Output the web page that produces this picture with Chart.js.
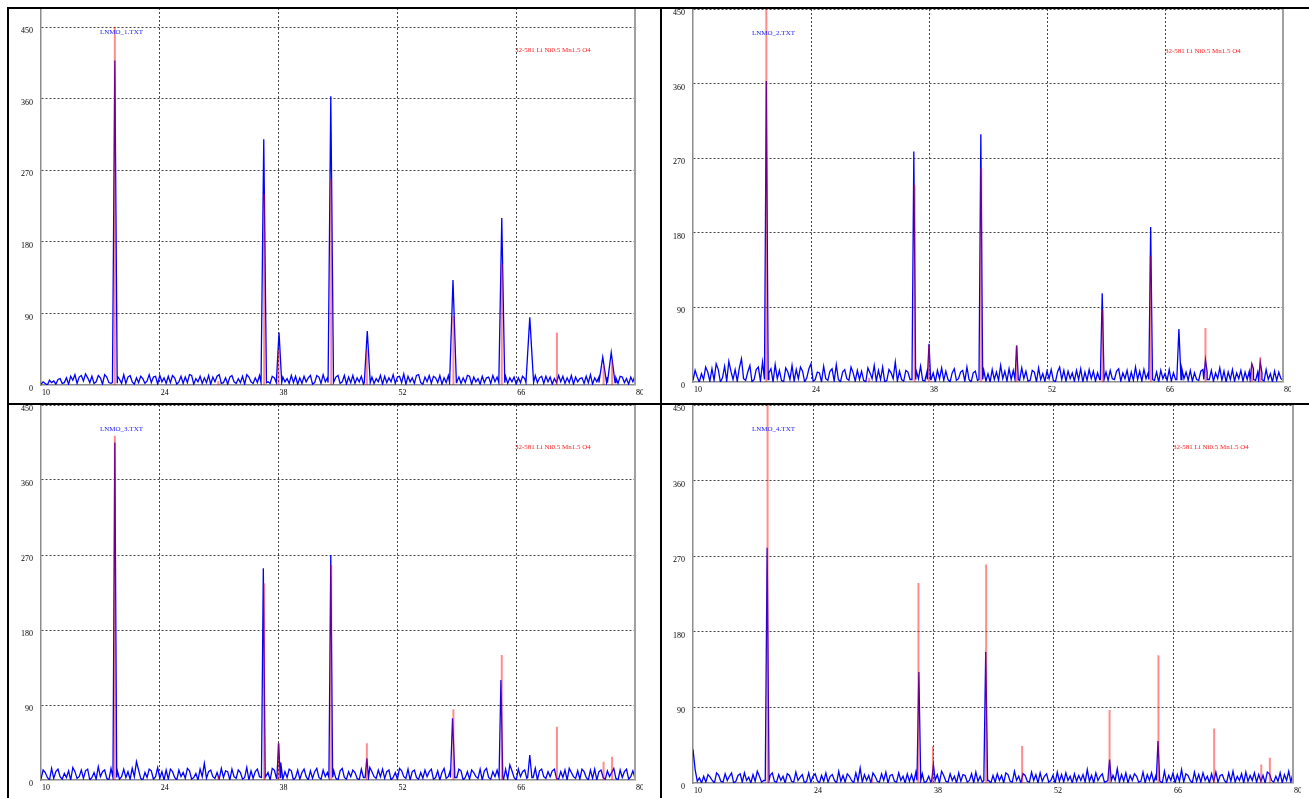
<!DOCTYPE html>
<html>
<head>
<meta charset="utf-8">
<script src="https://cdn.jsdelivr.net/npm/chart.js@4.4.1/dist/chart.umd.min.js"></script>
<style>
  body { margin: 0; background: #fff; width: 1309px; height: 798px; position: relative; overflow: hidden; }
  canvas { position: absolute; }
  .rule { position: absolute; background: #000; }
</style>
</head>
<body>
<canvas id="c1"></canvas>
<canvas id="c2"></canvas>
<canvas id="c3"></canvas>
<canvas id="c4"></canvas>
<div class="rule" style="left:7px;top:7px;width:1302px;height:2px"></div>
<div class="rule" style="left:7px;top:7px;width:2px;height:791px"></div>
<div class="rule" style="left:660px;top:7px;width:2px;height:791px"></div>
<div class="rule" style="left:7px;top:403px;width:1302px;height:2px"></div>
<script>
// axis ticks (2-theta, intensity)
var xTicks = [10, 24, 38, 52, 66, 80];
var yTicks = [0, 90, 180, 270, 360, 450];

// reference card 32-581 Li Ni0.5 Mn1.5 O4 (red sticks)
var refPos = [18.7, 30.9, 36.3, 38.0, 44.2, 48.4, 58.6, 64.3, 70.8, 76.3, 77.3];
var refHeight1 = [450, 5, 240, 44, 259, 44, 87, 152, 66, 24, 30];
var refHeight2 = [450, 5, 238, 44, 258, 44, 87, 152, 65, 22, 30];
var refHeight3 = [413, 5, 236, 44, 258, 44, 85, 150, 64, 22, 28];
var refHeight4 = [450, 5, 238, 44, 260, 44, 87, 152, 65, 22, 30];

// measured peaks per sample (blue)
var peakPos1 = [18.7, 36.25, 38.05, 44.15, 48.45, 58.55, 64.3, 67.6, 76.2, 77.2];
var peakHeight1 = [408, 309, 66, 363, 68, 132, 210, 85, 35, 41];
var peakWidth1 = [0.28, 0.32, 0.32, 0.32, 0.35, 0.4, 0.35, 0.45, 0.45, 0.45];

var peakPos2 = [18.7, 36.2, 38.0, 44.15, 48.4, 58.55, 64.3, 67.65, 70.8, 76.3, 77.3];
var peakHeight2 = [363, 278, 46, 299, 44, 107, 187, 64, 27, 22, 24];
var peakWidth2 = [0.22, 0.22, 0.2, 0.22, 0.2, 0.22, 0.22, 0.25, 0.2, 0.2, 0.2];

var peakPos3 = [18.7, 36.2, 38.0, 44.15, 48.4, 58.5, 64.2, 67.6];
var peakHeight3 = [405, 254, 44, 270, 26, 74, 120, 30];
var peakWidth3 = [0.22, 0.22, 0.2, 0.22, 0.2, 0.25, 0.22, 0.25];

var peakPos4 = [18.65, 36.35, 38.05, 44.15, 58.6, 64.25];
var peakHeight4 = [280, 132, 22, 156, 28, 50];
var peakWidth4 = [0.22, 0.22, 0.2, 0.22, 0.2, 0.2];

// background counts, 10..80 deg in 0.25 deg steps
var noise1 = [
  1,4,2,0,6,3,5,1,7,8,2,3,9,1,11,6,13,2,10,12,
  5,14,9,3,11,2,4,12,9,1,13,10,3,2,12,5,11,7,2,13,
  2,10,12,4,1,9,3,11,8,2,5,13,3,10,11,1,12,4,9,2,
  11,3,12,9,1,4,11,2,10,3,13,12,1,8,4,11,2,9,3,12,
  1,10,4,11,13,2,3,9,1,10,12,4,2,8,3,11,1,13,10,4,
  2,9,3,12,1,10,11,4,2,11,9,3,13,1,10,4,8,2,12,3,
  11,1,9,2,11,4,9,12,1,3,12,10,2,13,4,9,1,11,3,10,
  12,2,4,12,1,10,3,12,2,9,4,11,1,13,12,3,10,2,8,4,
  12,1,11,3,9,4,13,2,10,11,3,14,1,11,4,9,2,12,13,3,
  1,10,4,12,2,11,9,3,12,1,9,3,12,8,1,13,4,10,2,9,
  3,12,11,1,10,4,8,1,11,3,9,10,2,12,4,10,1,8,3,11,
  2,9,4,10,1,9,3,11,8,2,4,10,1,12,3,9,11,2,11,4,
  10,1,8,3,12,4,11,2,9,3,12,1,10,4,8,9,2,11,3,13,
  1,9,4,10,2,12,3,10,1,12,4,9,2,11,10,3,8,1,10,4,
  12
];
var noise2 = [
  2,14,6,0,10,3,18,12,1,16,2,22,15,0,5,19,1,25,13,3,
  15,1,17,28,4,2,12,20,0,3,15,18,1,24,5,2,11,16,0,21,
  4,14,2,0,17,12,3,20,1,15,4,18,13,0,5,16,22,1,3,12,
  11,0,19,4,2,13,16,1,21,3,0,12,15,4,2,18,11,1,14,3,
  13,2,0,17,11,4,20,1,14,3,18,0,2,15,11,4,24,1,13,3,
  1,14,12,3,0,16,13,4,19,2,1,12,15,3,11,0,14,4,17,2,
  13,3,0,11,16,2,4,12,14,1,18,3,0,11,13,2,15,4,14,1,
  10,0,15,3,12,2,20,4,13,1,16,3,14,0,12,2,17,4,13,1,
  2,14,12,0,17,3,10,1,13,4,15,2,0,12,18,3,14,1,13,4,
  11,1,14,3,16,0,12,2,15,4,13,1,11,3,19,0,12,2,14,4,
  3,13,16,1,11,4,14,0,12,2,18,3,13,1,15,4,11,0,14,2,
  12,0,14,4,10,2,15,1,11,3,13,0,16,4,12,2,14,1,11,3,
  2,13,15,0,12,3,14,1,11,4,17,2,13,0,12,3,15,1,11,4,
  14,1,12,3,13,0,16,2,12,4,11,1,15,3,10,0,13,2,12,4,
  2
];
var noise3 = [
  1,12,9,3,0,14,2,10,13,4,1,8,3,11,0,15,10,2,4,12,
  2,11,13,0,3,9,1,16,4,10,12,2,0,14,3,9,11,1,4,13,
  3,10,1,14,4,22,12,2,0,9,3,13,11,1,4,15,2,10,0,12,
  1,13,10,3,0,12,4,9,2,14,11,1,3,8,0,13,4,20,2,10,
  12,4,2,9,1,14,3,11,10,0,13,4,2,12,9,1,3,15,0,11,
  2,10,13,4,1,11,3,9,0,14,12,2,4,21,1,10,3,13,11,0,
  3,12,1,9,13,4,0,11,2,10,14,3,1,12,4,9,0,13,11,2,
  0,11,14,3,1,10,4,12,9,2,0,13,3,11,1,15,10,4,2,12,
  4,13,2,10,12,0,3,9,1,14,11,4,2,13,0,10,12,3,1,9,
  2,12,4,10,13,1,3,11,0,9,14,2,4,12,1,10,3,13,11,0,
  3,10,1,12,9,4,2,13,0,11,14,3,1,10,4,12,9,2,0,13,
  1,18,11,3,0,13,4,10,12,2,1,9,3,14,0,11,13,4,2,10,
  4,11,13,2,1,10,3,12,0,14,9,4,2,11,1,13,10,3,0,12,
  2,13,0,10,12,3,1,11,4,9,14,2,0,12,3,10,13,1,4,11,
  2
];
var noise4 = [
  40,16,2,6,0,8,1,10,7,3,0,12,9,2,1,11,3,8,12,0,
  2,9,11,1,12,3,7,0,10,2,14,8,1,3,11,0,9,12,2,1,
  10,3,8,0,11,9,2,1,13,3,7,10,0,2,12,1,8,11,3,0,
  9,2,12,1,8,10,3,0,14,2,9,1,11,8,3,0,12,2,18,1,
  10,3,9,0,12,8,2,1,11,3,13,0,9,10,2,1,12,3,8,0,
  11,2,10,1,13,3,9,11,0,2,8,1,12,3,10,0,14,9,2,1,
  11,3,8,0,12,2,10,9,1,3,11,0,13,2,8,1,10,12,3,0,
  9,1,11,3,9,0,12,10,2,1,14,3,8,0,11,9,2,1,13,3,
  10,0,12,2,8,11,1,3,9,0,13,2,10,1,12,3,8,0,11,2,
  9,3,10,1,16,2,9,0,12,3,8,11,1,2,13,0,9,3,17,1,
  10,2,12,0,9,3,11,8,1,2,13,0,10,3,12,1,9,11,2,0,
  14,1,9,3,12,0,10,2,16,1,11,9,3,0,13,2,10,1,12,3,
  8,0,11,2,13,1,9,10,3,0,12,2,14,1,8,3,11,0,13,2,
  9,3,12,1,10,2,9,0,13,11,3,1,8,2,12,0,10,3,14,1,
  12
];

var refLabel = "32-581 Li Ni0.5 Mn1.5 O4";
var labelFont = "'Liberation Serif', 'DejaVu Serif', serif";

// blue trace: background samples with the measured peaks put in
function buildTrace(noise, pos, height, width) {
  var pts = [];
  for (var i = 0; i < noise.length; i++) {
    var x = 10 + i * 0.25;
    var inPeak = false;
    for (var k = 0; k < pos.length; k++) {
      if (Math.abs(x - pos[k]) < width[k]) inPeak = true;
    }
    if (!inPeak) pts.push({ x: x, y: noise[i] });
  }
  for (var k = 0; k < pos.length; k++) {
    pts.push({ x: pos[k] - width[k], y: 3 });
    pts.push({ x: pos[k], y: height[k] });
    pts.push({ x: pos[k] + width[k], y: 3 });
  }
  pts.sort(function (a, b) { return a.x - b.x; });
  return pts;
}

// red sticks as separate segments
function buildSticks(pos, height) {
  var pts = [];
  for (var i = 0; i < pos.length; i++) {
    pts.push({ x: pos[i], y: 0 });
    pts.push({ x: pos[i], y: height[i] });
    pts.push({ x: pos[i], y: null });
  }
  return pts;
}

var panelDecor = {
  id: "panelDecor",
  afterDraw: function (chart, args, opts) {
    var a = chart.chartArea;
    var ctx = chart.ctx;
    ctx.save();
    ctx.strokeStyle = "#a0a0a0";
    ctx.lineWidth = 2;
    ctx.beginPath();
    ctx.moveTo(a.right, a.top);
    ctx.lineTo(a.right, a.bottom);
    ctx.stroke();
    ctx.font = "7px " + labelFont;
    ctx.textBaseline = "middle";
    ctx.fillStyle = "#2020ff";
    ctx.fillText(opts.name, a.left + 59, a.top + 24);
    ctx.fillStyle = "#ff2020";
    ctx.fillText(refLabel, a.left + opts.refX, a.top + 42);
    ctx.restore();
  },
};

function makePanel(id, box, ymax, trace, sticks, name, refX) {
  var canvas = document.getElementById(id);
  canvas.width = box.r - box.l + 48;
  canvas.height = box.b - box.t + 20;
  canvas.style.left = box.l - 40 + "px";
  canvas.style.top = box.t - 4 + "px";
  var tickFont = { family: labelFont, size: 8 };
  return new Chart(canvas.getContext("2d"), {
    type: "line",
    data: {
      datasets: [
        {
          data: sticks,
          borderColor: "rgba(255,0,0,0.45)",
          borderWidth: 2,
          pointRadius: 0,
          spanGaps: false,
        },
        {
          data: trace,
          borderColor: "#0000ff",
          borderWidth: 1.3,
          pointRadius: 0,
          tension: 0,
        },
      ],
    },
    options: {
      responsive: false,
      animation: false,
      devicePixelRatio: 1,
      layout: { padding: { left: 0, top: 4, right: 8, bottom: 0 } },
      plugins: {
        legend: { display: false },
        tooltip: { enabled: false },
        panelDecor: { name: name, refX: refX },
      },
      scales: {
        x: {
          type: "linear",
          min: 10,
          max: 80,
          afterBuildTicks: function (s) {
            s.ticks = xTicks.map(function (v) { return { value: v }; });
          },
          afterFit: function (s) {
            s.height = 16;
            s.paddingLeft = 0;
            s.paddingRight = 0;
          },
          ticks: {
            font: tickFont, color: "#000", padding: 3, labelOffset: 5,
            autoSkip: false, maxRotation: 0,
          },
          grid: {
            drawTicks: false,
            lineWidth: 1,
            color: function (c) {
              return c.tick && (c.tick.value === 10 || c.tick.value === 80) ? "rgba(0,0,0,0)" : "#444";
            },
          },
          border: { color: "#8c8c8c", width: 1.5, dash: [2, 2] },
        },
        y: {
          type: "linear",
          min: 0,
          max: ymax,
          afterBuildTicks: function (s) {
            s.ticks = yTicks.map(function (v) { return { value: v }; });
          },
          afterFit: function (s) {
            s.width = 40;
            s.paddingTop = 0;
            s.paddingBottom = 0;
          },
          ticks: { font: tickFont, color: "#000", padding: 8, labelOffset: 4 },
          grid: {
            drawTicks: false,
            lineWidth: 1,
            color: function (c) {
              return c.tick && c.tick.value === 0 ? "rgba(0,0,0,0)" : "#444";
            },
          },
          border: { color: "#8c8c8c", width: 1.5, dash: [2, 2] },
        },
      },
    },
    plugins: [panelDecor],
  });
}

var chart1 = makePanel("c1", { l: 41, t: 8, r: 635, b: 385 }, 474,
  buildTrace(noise1, peakPos1, peakHeight1, peakWidth1), buildSticks(refPos, refHeight1), "LNMO_1.TXT", 474);
var chart2 = makePanel("c2", { l: 693, t: 9, r: 1283, b: 382 }, 450,
  buildTrace(noise2, peakPos2, peakHeight2, peakWidth2), buildSticks(refPos, refHeight2), "LNMO_2.TXT", 472);
var chart3 = makePanel("c3", { l: 41, t: 405, r: 635, b: 780 }, 450,
  buildTrace(noise3, peakPos3, peakHeight3, peakWidth3), buildSticks(refPos, refHeight3), "LNMO_3.TXT", 474);
var chart4 = makePanel("c4", { l: 693, t: 405, r: 1293, b: 783 }, 450,
  buildTrace(noise4, peakPos4, peakHeight4, peakWidth4), buildSticks(refPos, refHeight4), "LNMO_4.TXT", 480);
</script>
</body>
</html>
